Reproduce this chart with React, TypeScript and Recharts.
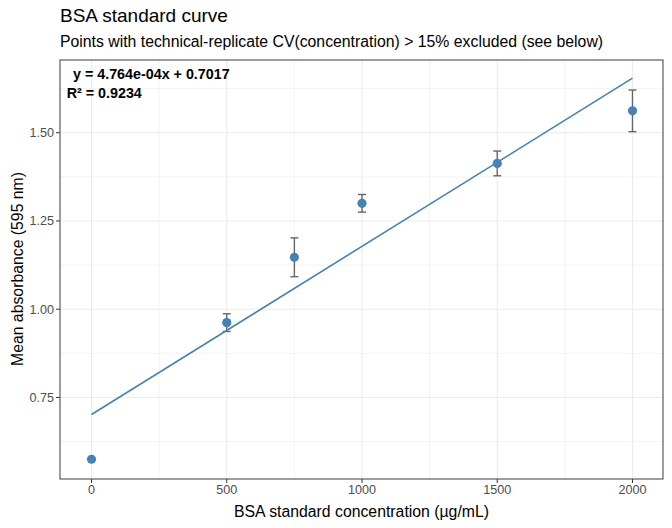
import { ComposedChart, Scatter, XAxis, YAxis, CartesianGrid, ErrorBar } from 'recharts';

// BSA standards (µg/mL) and mean absorbance at 595 nm
const concentrations = [0, 500, 750, 1000, 1500, 2000];
const meanAbsorbance = [0.575, 0.962, 1.147, 1.3, 1.413, 1.562];
const absorbanceSd = [0, 0.025, 0.055, 0.025, 0.035, 0.059];

// fitted line end points, y = 4.764e-04x + 0.7017
const fitX = [0, 2000];
const fitY = [0.7017, 1.6545];

const xTicks = [0, 500, 1000, 1500, 2000];
const xMinor = [250, 750, 1250, 1750];
const yTicks = [0.75, 1.0, 1.25, 1.5];
const yMinor = [0.625, 0.875, 1.125, 1.375, 1.625];

const points = concentrations.map((x, i) => ({ x, y: meanAbsorbance[i], err: absorbanceSd[i] }));
const fit = fitX.map((x, i) => ({ x, y: fitY[i] }));

const BLUE = '#4682b4';
const FONT = '"Liberation Sans", Arial, Helvetica, sans-serif';

export default function App() {
  return (
    <div style={{ position: 'relative', width: 672, height: 528, fontFamily: FONT, background: '#fff' }}>
      <style>{'body{margin:0}'}</style>
      <div style={{ position: 'absolute', left: 0, top: 0 }}>
        <ComposedChart width={672} height={528} margin={{ top: 60, right: 9, bottom: 0, left: 0 }}>
          <CartesianGrid stroke="#ebebeb" strokeWidth={0.6} verticalValues={xMinor} horizontalValues={yMinor} />
          <CartesianGrid stroke="#ebebeb" strokeWidth={1.1} verticalValues={xTicks} horizontalValues={yTicks} />
          <XAxis
            type="number"
            dataKey="x"
            domain={[-116.5, 2112.8]}
            ticks={xTicks}
            allowDataOverflow
            height={49}
            tickSize={4}
            axisLine={false}
            tickLine={{ stroke: '#333' }}
            tick={{ fill: '#4d4d4d', fontSize: 12.6, fontFamily: FONT }}
          />
          <YAxis
            type="number"
            dataKey="y"
            domain={[0.519, 1.706]}
            ticks={yTicks}
            allowDataOverflow
            width={60}
            tickSize={4}
            axisLine={false}
            tickLine={{ stroke: '#333' }}
            tick={{ fill: '#4d4d4d', fontSize: 12.6, fontFamily: FONT }}
            tickFormatter={(v: number) => v.toFixed(2)}
          />
          <Scatter
            data={fit}
            dataKey="y"
            line={{ stroke: BLUE, strokeWidth: 1.6 }}
            shape={() => <g />}
            isAnimationActive={false}
          />
          {/* error bars first, then the points on top */}
          <Scatter data={points} dataKey="y" shape={() => <g />} isAnimationActive={false}>
            <ErrorBar dataKey="err" direction="y" width={4} stroke="#666" strokeWidth={1.4} />
          </Scatter>
          <Scatter
            data={points}
            dataKey="y"
            shape={(p: any) => <circle cx={p.cx} cy={p.cy} r={4.6} fill={BLUE} />}
            isAnimationActive={false}
          />
        </ComposedChart>
      </div>
      <svg width={672} height={528} style={{ position: 'absolute', left: 0, top: 0, pointerEvents: 'none' }}>
        <rect x={60} y={60} width={603} height={419} fill="none" stroke="#4d4d4d" strokeWidth={1.1} />
        <text x={60} y={21.7} fontSize={19} fill="#000">BSA standard curve</text>
        <text x={60} y={46.7} fontSize={15.8} fill="#000">
          Points with technical-replicate CV(concentration) &gt; 15% excluded (see below)
        </text>
        <text x={73} y={78.5} fontSize={14.3} fontWeight="bold" fill="#000">y = 4.764e-04x + 0.7017</text>
        <text x={66.7} y={97.7} fontSize={14.3} fontWeight="bold" fill="#000">R² = 0.9234</text>
        <text x={361.5} y={516.5} fontSize={15.8} textAnchor="middle" fill="#000">
          BSA standard concentration (µg/mL)
        </text>
        <text x={22.5} y={269} fontSize={15.8} textAnchor="middle" transform="rotate(-90 22.5 269)" fill="#000">
          Mean absorbance (595 nm)
        </text>
      </svg>
    </div>
  );
}
